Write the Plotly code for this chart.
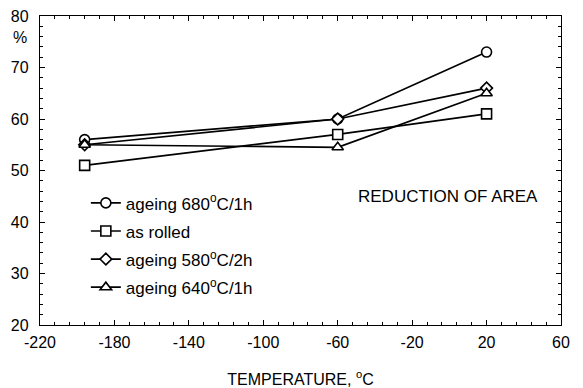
import plotly.graph_objects as go

temps = [-196, -60, 20]
names = ["ageing 680<sup>o</sup>C/1h", "as rolled", "ageing 580<sup>o</sup>C/2h", "ageing 640<sup>o</sup>C/1h"]
ageing_680 = [56, 60, 73]
as_rolled = [51, 57, 61]
ageing_580 = [55, 60, 66]
ageing_640 = [55, 54.5, 65]
x_ticks = [-220, -180, -140, -100, -60, -20, 20, 60]
x_tick_labels = ["-220", "-180", "-140", "-100", "-60", "-20", "20", "60"]
y_ticks = [20, 30, 40, 50, 60, 70, 80]
symbols = ["circle", "square", "diamond", "triangle-up"]
sizes = [10, 10, 9, 10]
series = [ageing_680, as_rolled, ageing_580, ageing_640]

FONT = "Arial, Liberation Sans, sans-serif"

fig = go.Figure()
for i, (n, s, sym, sz) in enumerate(zip(names, series, symbols, sizes)):
    fig.add_trace(go.Scatter(
        x=temps, y=s, name=n, mode="lines+markers", legendgroup=f"g{i}",
        line=dict(color="black", width=1.7),
        marker=dict(symbol=sym, size=sz, color="white",
                    line=dict(color="black", width=1.6)),
    ))

axis_common = dict(
    showgrid=False, zeroline=False, showline=True, linecolor="black", linewidth=1.3,
    mirror="allticks", ticks="inside", ticklen=5, tickcolor="black",
    automargin=False, ticklabeloverflow="allow",
    tickfont=dict(family=FONT, size=16, color="black"),
)
fig.update_xaxes(range=[-220, 60], tickvals=x_ticks, ticktext=x_tick_labels,
                 ticklabelstandoff=3,
                 minor=dict(dtick=8, tick0=-220, ticks="inside", ticklen=3, tickcolor="black"),
                 title=dict(text="TEMPERATURE, <sup>o</sup>C", standoff=25,
                            font=dict(family=FONT, size=16, color="black")),
                 **axis_common)
fig.update_yaxes(range=[20, 80], tickvals=y_ticks, ticklabelstandoff=7,
                 minor=dict(dtick=2, ticks="inside", ticklen=3, tickcolor="black"),
                 **axis_common)

fig.add_annotation(text="%", xref="paper", yref="paper", x=-0.038, y=0.932,
                   showarrow=False, xanchor="center", yanchor="middle",
                   font=dict(family=FONT, size=16, color="black"))
fig.add_annotation(text="REDUCTION OF AREA", xref="paper", yref="paper", x=0.606, y=0.415,
                   showarrow=False, xanchor="left", yanchor="middle",
                   font=dict(family=FONT, size=17, color="black"))

fig.update_layout(
    width=575, height=380,
    margin=dict(l=32, r=22, t=8, b=63),
    plot_bgcolor="white", paper_bgcolor="white",
    showlegend=True,
    legend=dict(x=0.088, y=0.452, xanchor="left", yanchor="top",
                bgcolor="rgba(0,0,0,0)", tracegroupgap=3,
                font=dict(family=FONT, size=17, color="black")),
)
fig.write_html("out.html")
